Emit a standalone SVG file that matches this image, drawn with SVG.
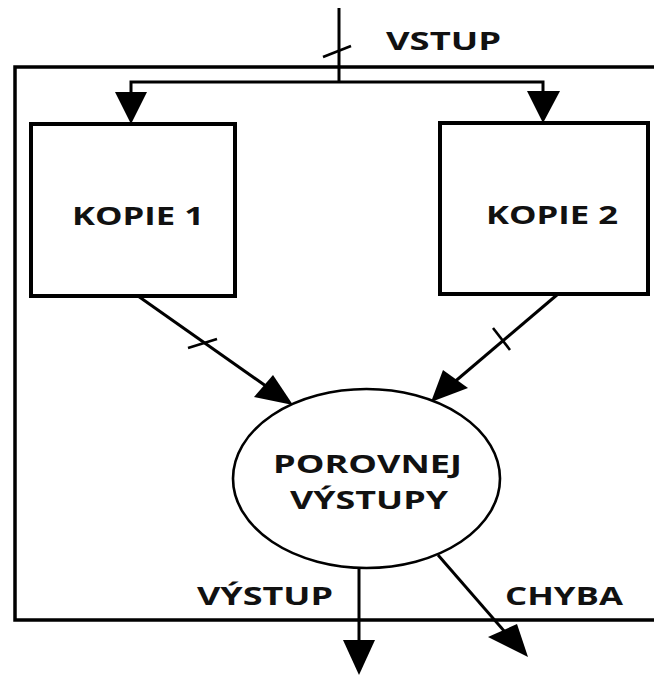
<svg xmlns="http://www.w3.org/2000/svg" width="654" height="679" viewBox="0 0 654 679">
  <style>
    .frame { fill: none; stroke: #000; stroke-width: 3.5; }
    .box { fill: #fff; stroke: #000; stroke-width: 4; }
    .oval { fill: #fff; stroke: #000; stroke-width: 2.6; }
    .wire { fill: none; stroke: #000; stroke-width: 3; }
    .tick { fill: none; stroke: #000; stroke-width: 2.6; }
    .head { fill: #000; }
    .lbl { font-family: "Open Sans", "Liberation Sans", sans-serif; font-weight: bold; font-size: 25px; fill: #111; }
  </style>

  <rect width="654" height="679" fill="#fff"/>

  <!-- system boundary, open on the right -->
  <path class="frame" d="M660,67 H15 V620 H660"/>

  <g id="connectors">
    <!-- input bus with width tick -->
    <line class="wire" x1="339" y1="8" x2="339" y2="82"/>
    <line class="tick" x1="323" y1="57" x2="351" y2="46"/>
    <path class="wire" d="M131,96 V82 H543 V96"/>
    <polygon class="head" points="115,92 147,92 131,124"/>
    <polygon class="head" points="527,91 560,91 543,123"/>

    <!-- copy 1 to comparator -->
    <line class="wire" x1="138" y1="296" x2="280" y2="396"/>
    <line class="tick" x1="188" y1="348" x2="217" y2="339"/>
    <polygon class="head" points="254,397 273,375 293,405"/>

    <!-- copy 2 to comparator -->
    <line class="wire" x1="558" y1="294" x2="445" y2="390"/>
    <line class="tick" x1="493" y1="328" x2="510" y2="350"/>
    <polygon class="head" points="443,370 468,388 431,402"/>

    <!-- outputs -->
    <line class="wire" x1="359" y1="567" x2="359" y2="645"/>
    <polygon class="head" points="343,640 375,640 359,675"/>
    <line class="wire" x1="438" y1="555" x2="512" y2="640"/>
    <polygon class="head" points="488,637 517,624 528,657"/>
  </g>

  <g id="kopie1">
    <rect class="box" x="31" y="124" width="204" height="172"/>
    <text class="lbl" x="72" y="225" textLength="132" lengthAdjust="spacingAndGlyphs">KOPIE 1</text>
  </g>

  <g id="kopie2">
    <rect class="box" x="440" y="123" width="208" height="171"/>
    <text class="lbl" x="486" y="224" textLength="132" lengthAdjust="spacingAndGlyphs">KOPIE 2</text>
  </g>

  <g id="porovnej">
    <ellipse class="oval" cx="366.5" cy="478.5" rx="133.5" ry="89.5"/>
    <text class="lbl" x="273" y="473" textLength="189" lengthAdjust="spacingAndGlyphs">POROVNEJ</text>
    <text class="lbl" x="290" y="509" textLength="158" lengthAdjust="spacingAndGlyphs">VÝSTUPY</text>
  </g>

  <g id="labels">
    <text class="lbl" x="386" y="50" textLength="115" lengthAdjust="spacingAndGlyphs">VSTUP</text>
    <text class="lbl" x="197" y="605" textLength="136" lengthAdjust="spacingAndGlyphs">VÝSTUP</text>
    <text class="lbl" x="505" y="605" textLength="118" lengthAdjust="spacingAndGlyphs">CHYBA</text>
  </g>
</svg>
